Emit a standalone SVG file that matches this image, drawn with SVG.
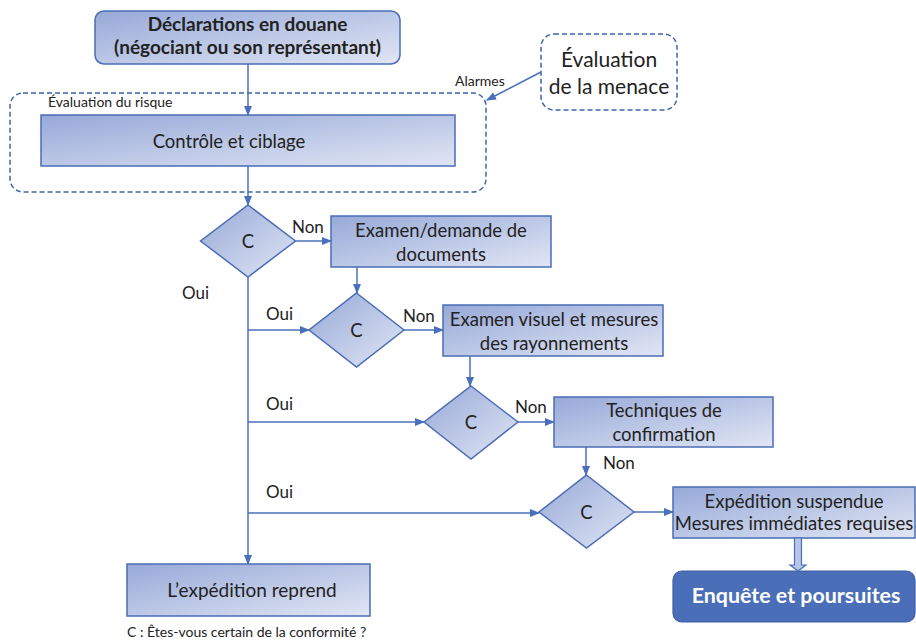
<svg xmlns="http://www.w3.org/2000/svg" width="916" height="642" viewBox="0 0 916 642">
<defs>
<linearGradient id="g" x1="0" y1="0" x2="1" y2="1">
<stop offset="0" stop-color="#97a9d8"/>
<stop offset="1" stop-color="#e1e6f4"/>
</linearGradient>
<marker id="ah" markerWidth="10" markerHeight="8" refX="9" refY="4" orient="auto" markerUnits="userSpaceOnUse">
<path d="M0,0 L10,4 L0,8 Z" fill="#4a70bd"/>
</marker>
<style>
.box{fill:url(#g);stroke:#4a6db5;stroke-width:1.5}
.dash{fill:none;stroke:#3e63a8;stroke-width:1.5;stroke-dasharray:5 3}
.t{font-family:Lato,"Liberation Sans",sans-serif;fill:#222;text-anchor:middle}
.m{font-size:18.5px}
.l{font-family:Lato,"Liberation Sans",sans-serif;fill:#222;font-size:17px}
.s{font-family:Lato,"Liberation Sans",sans-serif;fill:#222;font-size:14px}
.c{stroke:#4a70bd;stroke-width:1.5;fill:none}
</style>
</defs>

<g id="risk-region">
<rect x="10" y="93" width="476" height="99" rx="13" class="dash"/>
<text class="s" x="48" y="107">Évaluation du risque</text>
</g>

<g id="declarations">
<rect x="95" y="11" width="305" height="53" rx="9" class="box"/>
<text class="t" x="247.5" y="31" font-size="19" font-weight="bold">Déclarations en douane</text>
<text class="t" x="247.5" y="54" font-size="19" font-weight="bold">(négociant ou son représentant)</text>
</g>

<g id="menace">
<rect x="541" y="34" width="136" height="76" rx="13" class="dash"/>
<text class="t" x="609" y="67" font-size="21">Évaluation</text>
<text class="t" x="609" y="94" font-size="21">de la menace</text>
</g>

<g id="controle">
<rect x="41" y="115" width="414" height="51" class="box"/>
<text class="t m" x="229" y="148">Contrôle et ciblage</text>
</g>

<g id="c1">
<polygon points="248,205 295.5,241 248,277 200.5,241" class="box"/>
<text class="t m" x="248" y="248">C</text>
</g>

<g id="examen-docs">
<rect x="331" y="216" width="220" height="51" class="box"/>
<text class="t m" x="441" y="237">Examen/demande de</text>
<text class="t m" x="441" y="261">documents</text>
</g>

<g id="c2">
<polygon points="356.5,293 404,330 356.5,367 309,330" class="box"/>
<text class="t m" x="356.5" y="337">C</text>
</g>

<g id="examen-visuel">
<rect x="443" y="305" width="220" height="51" class="box"/>
<text class="t m" x="554" y="326">Examen visuel et mesures</text>
<text class="t m" x="554" y="350">des rayonnements</text>
</g>

<g id="c3">
<polygon points="471,386 518,422 471,459 424,422" class="box"/>
<text class="t m" x="471" y="429">C</text>
</g>

<g id="techniques">
<rect x="554" y="397" width="219" height="50" class="box"/>
<text class="t m" x="664" y="417">Techniques de</text>
<text class="t m" x="664" y="441">confirmation</text>
</g>

<g id="c4">
<polygon points="586.5,475 634,512 586.5,548 539,512" class="box"/>
<text class="t m" x="586.5" y="519">C</text>
</g>

<g id="suspendue">
<rect x="673" y="487" width="242" height="51" class="box"/>
<text class="t m" x="794" y="508">Expédition suspendue</text>
<text class="t m" x="794" y="530">Mesures immédiates requises</text>
</g>

<g id="enquete">
<rect x="673" y="571" width="242" height="51" rx="9" fill="#4a6fb8" stroke="#3d5ea3" stroke-width="1.2"/>
<text class="t" x="796" y="603" font-size="21.4" font-weight="bold" style="fill:#fff">Enquête et poursuites</text>
</g>

<g id="reprend">
<rect x="127" y="564" width="243" height="52" class="box"/>
<text class="t" x="252" y="597" font-size="19">L’expédition reprend</text>
</g>

<g id="connectors">
<line x1="248" y1="64" x2="248" y2="115" class="c" marker-end="url(#ah)"/>
<line x1="541" y1="72" x2="487" y2="100" class="c" marker-end="url(#ah)"/>
<line x1="248" y1="166" x2="248" y2="205" class="c" marker-end="url(#ah)"/>
<line x1="295.5" y1="241" x2="331" y2="241" class="c" marker-end="url(#ah)"/>
<line x1="357" y1="267" x2="357" y2="293" class="c" marker-end="url(#ah)"/>
<line x1="404" y1="330" x2="443" y2="330" class="c" marker-end="url(#ah)"/>
<line x1="470" y1="356" x2="470" y2="386" class="c" marker-end="url(#ah)"/>
<line x1="518" y1="422" x2="554" y2="422" class="c" marker-end="url(#ah)"/>
<line x1="586" y1="447" x2="586" y2="475" class="c" marker-end="url(#ah)"/>
<line x1="634" y1="512" x2="673" y2="512" class="c" marker-end="url(#ah)"/>
<line x1="248" y1="277" x2="248" y2="564" class="c" marker-end="url(#ah)"/>
<line x1="248" y1="330" x2="309" y2="330" class="c" marker-end="url(#ah)"/>
<line x1="248" y1="422" x2="424" y2="422" class="c" marker-end="url(#ah)"/>
<line x1="248" y1="513" x2="539" y2="513" class="c" marker-end="url(#ah)"/>
<path d="M794.5,538 V565 H790 L798,571 L806,565 H801.5 V538 Z" fill="#b7c5e8" stroke="#4a6db5" stroke-width="1.2"/>
<text class="s" x="455" y="86">Alarmes</text>
<text class="l" x="292" y="233">Non</text>
<text class="l" x="182" y="299">Oui</text>
<text class="l" x="266" y="320">Oui</text>
<text class="l" x="403" y="322">Non</text>
<text class="l" x="266" y="410">Oui</text>
<text class="l" x="515" y="413">Non</text>
<text class="l" x="603" y="469">Non</text>
<text class="l" x="266" y="498">Oui</text>
</g>

<text class="s" x="127" y="637">C : Êtes-vous certain de la conformité ?</text>
</svg>
